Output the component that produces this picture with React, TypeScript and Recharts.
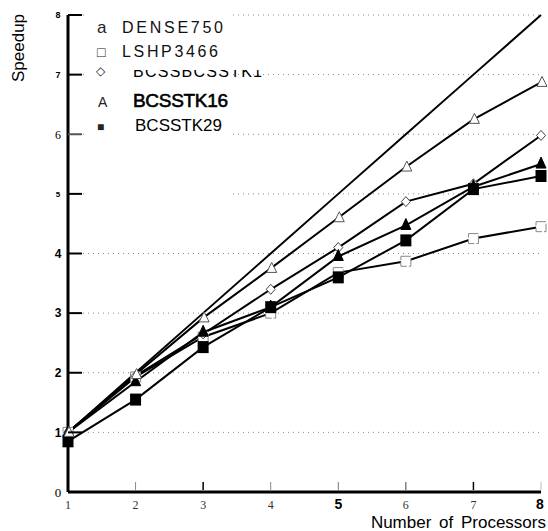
import React from 'react';
import { LineChart, Line, XAxis, YAxis, CartesianGrid } from 'recharts';

// ---- data ----
const processors = [1, 2, 3, 4, 5, 6, 7, 8];
const ideal = [1, 2, 3, 4, 5, 6, 7, 8];
const dense750 = [1, 1.97, 2.92, 3.75, 4.6, 5.45, 6.25, 6.87];
const lshp3466 = [1, 1.93, 2.6, 3.0, 3.68, 3.87, 4.25, 4.45];
const bcsstk15 = [1, 1.95, 2.65, 3.4, 4.1, 4.87, 5.17, 5.98];
const bcsstk16 = [1, 1.85, 2.68, 3.1, 3.95, 4.47, 5.12, 5.5];
const bcsstk29 = [0.85, 1.55, 2.43, 3.1, 3.6, 4.22, 5.08, 5.3];

const yTicks = [0, 1, 2, 3, 4, 5, 6, 7, 8];
const xTicks = [1, 2, 3, 4, 5, 6, 7, 8];

const legendNames = ['DENSE750', 'LSHP3466', 'BCSSBCSSTK1', 'BCSSTK16', 'BCSSTK29'];
const legendGlyphs = ['a', '□', '◇', 'A', '■'];

const data = processors.map((p, i) => ({
  p,
  ideal: ideal[i],
  dense750: dense750[i],
  lshp3466: lshp3466[i],
  bcsstk15: bcsstk15[i],
  bcsstk16: bcsstk16[i],
  bcsstk29: bcsstk29[i],
}));

const SANS = '"Liberation Sans", Arial, sans-serif';
const SERIF = '"Liberation Serif", "DejaVu Serif", serif';

// ---- markers ----
const OpenTriangle = (props: any) => {
  const { cx, cy, index } = props;
  if (cx == null || cy == null) return <g key={`ot-${index}`} />;
  return (
    <polygon
      key={`ot-${index}`}
      points={`${cx + 1},${cy - 6} ${cx + 6},${cy + 4} ${cx - 4},${cy + 4}`}
      fill="#fff"
      stroke="#555"
      strokeWidth={1}
    />
  );
};
const FilledTriangle = (props: any) => {
  const { cx, cy, index } = props;
  if (cx == null || cy == null) return <g key={`ft-${index}`} />;
  return (
    <polygon
      key={`ft-${index}`}
      points={`${cx},${cy - 7} ${cx + 5},${cy + 4} ${cx - 5},${cy + 4}`}
      fill="#000"
      stroke="#000"
      strokeWidth={1}
    />
  );
};
const OpenDiamond = (props: any) => {
  const { cx, cy, index } = props;
  if (cx == null || cy == null) return <g key={`od-${index}`} />;
  return (
    <polygon
      key={`od-${index}`}
      points={`${cx},${cy - 5} ${cx + 4.5},${cy} ${cx},${cy + 5} ${cx - 4.5},${cy}`}
      fill="#fff"
      stroke="#444"
      strokeWidth={1}
    />
  );
};
const FilledSquare = (props: any) => {
  const { cx, cy, index } = props;
  if (cx == null || cy == null) return <g key={`fs-${index}`} />;
  return <rect key={`fs-${index}`} x={cx - 5.5} y={cy - 6} width={11} height={12} fill="#000" />;
};
const OpenSquare = (props: any) => {
  const { cx, cy, index } = props;
  if (cx == null || cy == null) return <g key={`os-${index}`} />;
  return (
    <rect
      key={`os-${index}`}
      x={cx - 5}
      y={cy - 5}
      width={10}
      height={10}
      fill="#fff"
      stroke="#888"
      strokeWidth={1}
      strokeDasharray="10 2"
    />
  );
};

// ---- ticks ----
const yLabelStyle: Record<number, { size: number; weight: string; family: string }> = {
  0: { size: 13, weight: 'normal', family: SERIF },
  1: { size: 12, weight: 'bold', family: SANS },
  2: { size: 12, weight: 'bold', family: SANS },
  3: { size: 12, weight: 'bold', family: SANS },
  4: { size: 12, weight: 'bold', family: SANS },
  5: { size: 8, weight: 'bold', family: SANS },
  6: { size: 12, weight: 'normal', family: SERIF },
  7: { size: 9, weight: 'bold', family: SANS },
  8: { size: 9, weight: 'bold', family: SANS },
};

const YTick = (props: any) => {
  const { x, y, payload } = props;
  const v = payload.value as number;
  const st = yLabelStyle[v];
  return (
    <g>
      {v > 0 && (
        <line x1={x} y1={y} x2={x + 14} y2={y} stroke={v === 6 ? '#555' : '#000'} strokeWidth={2} />
      )}
      <text
        x={x - 10}
        y={y + st.size * 0.36}
        textAnchor="middle"
        fontFamily={st.family}
        fontWeight={st.weight}
        fontSize={st.size}
        fill="#000"
      >
        {v}
      </text>
    </g>
  );
};

const xTickColor: Record<number, string> = {
  1: 'none', 2: '#888', 3: '#000', 4: '#888', 5: '#777', 6: '#444', 7: '#000', 8: '#bbb',
};

const XTick = (props: any) => {
  const { x, y, payload } = props;
  const v = payload.value as number;
  const bold = v === 5 || v === 8;
  return (
    <g>
      {v > 1 && (
        <line x1={x} y1={y - 2} x2={x} y2={y - 10} stroke={xTickColor[v]} strokeWidth={v === 3 || v === 7 ? 1.5 : 1} />
      )}
      <text
        x={v === 8 ? x - 1 : x}
        y={y + 17}
        textAnchor="middle"
        fontFamily={bold ? SANS : SERIF}
        fontWeight={bold ? 'bold' : 'normal'}
        fontSize={bold ? 14 : 12}
        fill={bold ? '#000' : '#333'}
      >
        {v}
      </text>
    </g>
  );
};

const XLabel = (props: any) => {
  const vb = props.viewBox;
  return (
    <text
      x={vb.x + vb.width + 5}
      y={vb.y + 36}
      textAnchor="end"
      fontFamily={SANS}
      fontSize={17}
      wordSpacing={3}
      fill="#000"
    >
      Number of Processors
    </text>
  );
};

const YLabel = (props: any) => {
  const vb = props.viewBox;
  const cx = vb.x + 16;
  const cy = vb.y + 33;
  return (
    <text
      x={cx}
      y={cy}
      transform={`rotate(-90 ${cx} ${cy})`}
      textAnchor="middle"
      fontFamily={SANS}
      fontSize={17}
      fill="#000"
    >
      Speedup
    </text>
  );
};

// ---- legend ----
const legendRows = [
  { gx: 97, gy: 33, gSize: 17, tx: 122, ty: 33, size: 16, len: 101, fill: '#111', sw: 0 },
  { gx: 97, gy: 57, gSize: 14, tx: 122, ty: 57, size: 16, len: 96, fill: '#111', sw: 0 },
  { gx: 96, gy: 75, gSize: 12, tx: 133, ty: 76.5, size: 16, len: 129, fill: '#000', sw: 0 },
  { gx: 98, gy: 107, gSize: 14, tx: 133, ty: 107, size: 19, len: 95, fill: '#000', sw: 0.6 },
  { gx: 97, gy: 131, gSize: 12, tx: 135, ty: 131, size: 17, len: 87, fill: '#000', sw: 0 },
];

const LegendOverlay = () => (
  <svg
    width={548}
    height={205}
    style={{ position: 'absolute', left: 0, top: 0, pointerEvents: 'none' }}
  >
    <defs>
      <clipPath id="cut">
        <rect x={120} y={70} width={160} height={8} />
      </clipPath>
    </defs>
    <rect x={85} y={10} width={145} height={190} fill="#fff" />
    {legendNames.map((name, i) => {
      const r = legendRows[i];
      return (
        <g key={name}>
          <text x={r.gx} y={r.gy} fontFamily={SANS} fontSize={r.gSize} fill="#222">
            {legendGlyphs[i]}
          </text>
          <text
            x={r.tx}
            y={r.ty}
            fontFamily={SANS}
            fontSize={r.size}
            textLength={r.len}
            lengthAdjust="spacing"
            fill={r.fill}
            stroke={r.sw ? '#000' : undefined}
            strokeWidth={r.sw || undefined}
            clipPath={i === 2 ? 'url(#cut)' : undefined}
          >
            {name}
          </text>
        </g>
      );
    })}
  </svg>
);

export default function App() {
  return (
    <div style={{ position: 'absolute', left: 0, top: 0, width: 548, height: 531, background: '#fff' }}>
      <LineChart width={548} height={531} data={data} margin={{ top: 15, right: 7, bottom: 0, left: 8 }}>
        <CartesianGrid horizontal vertical={false} stroke="#888" strokeDasharray="1 4" />
        <XAxis
          dataKey="p"
          type="number"
          domain={[1, 8]}
          ticks={xTicks}
          height={39}
          tickLine={false}
          tickSize={0}
          tickMargin={0}
          axisLine={{ stroke: '#000', strokeWidth: 3 }}
          tick={<XTick />}
          label={<XLabel />}
          interval={0}
        />
        <YAxis
          type="number"
          domain={[0, 8]}
          ticks={yTicks}
          width={60}
          tickLine={false}
          tickSize={0}
          tickMargin={0}
          axisLine={{ stroke: '#000', strokeWidth: 3 }}
          tick={<YTick />}
          label={<YLabel />}
          interval={0}
        />
        <Line dataKey="lshp3466" stroke="#000" strokeWidth={2} dot={OpenSquare} isAnimationActive={false} />
        <Line dataKey="bcsstk15" stroke="#000" strokeWidth={2} dot={OpenDiamond} isAnimationActive={false} />
        <Line dataKey="bcsstk29" stroke="#000" strokeWidth={2} dot={FilledSquare} isAnimationActive={false} />
        <Line dataKey="bcsstk16" stroke="#000" strokeWidth={2} dot={FilledTriangle} isAnimationActive={false} />
        <Line dataKey="dense750" stroke="#000" strokeWidth={2} dot={OpenTriangle} isAnimationActive={false} />
        <Line dataKey="ideal" stroke="#000" strokeWidth={2} dot={false} isAnimationActive={false} />
      </LineChart>
      <LegendOverlay />
    </div>
  );
}
